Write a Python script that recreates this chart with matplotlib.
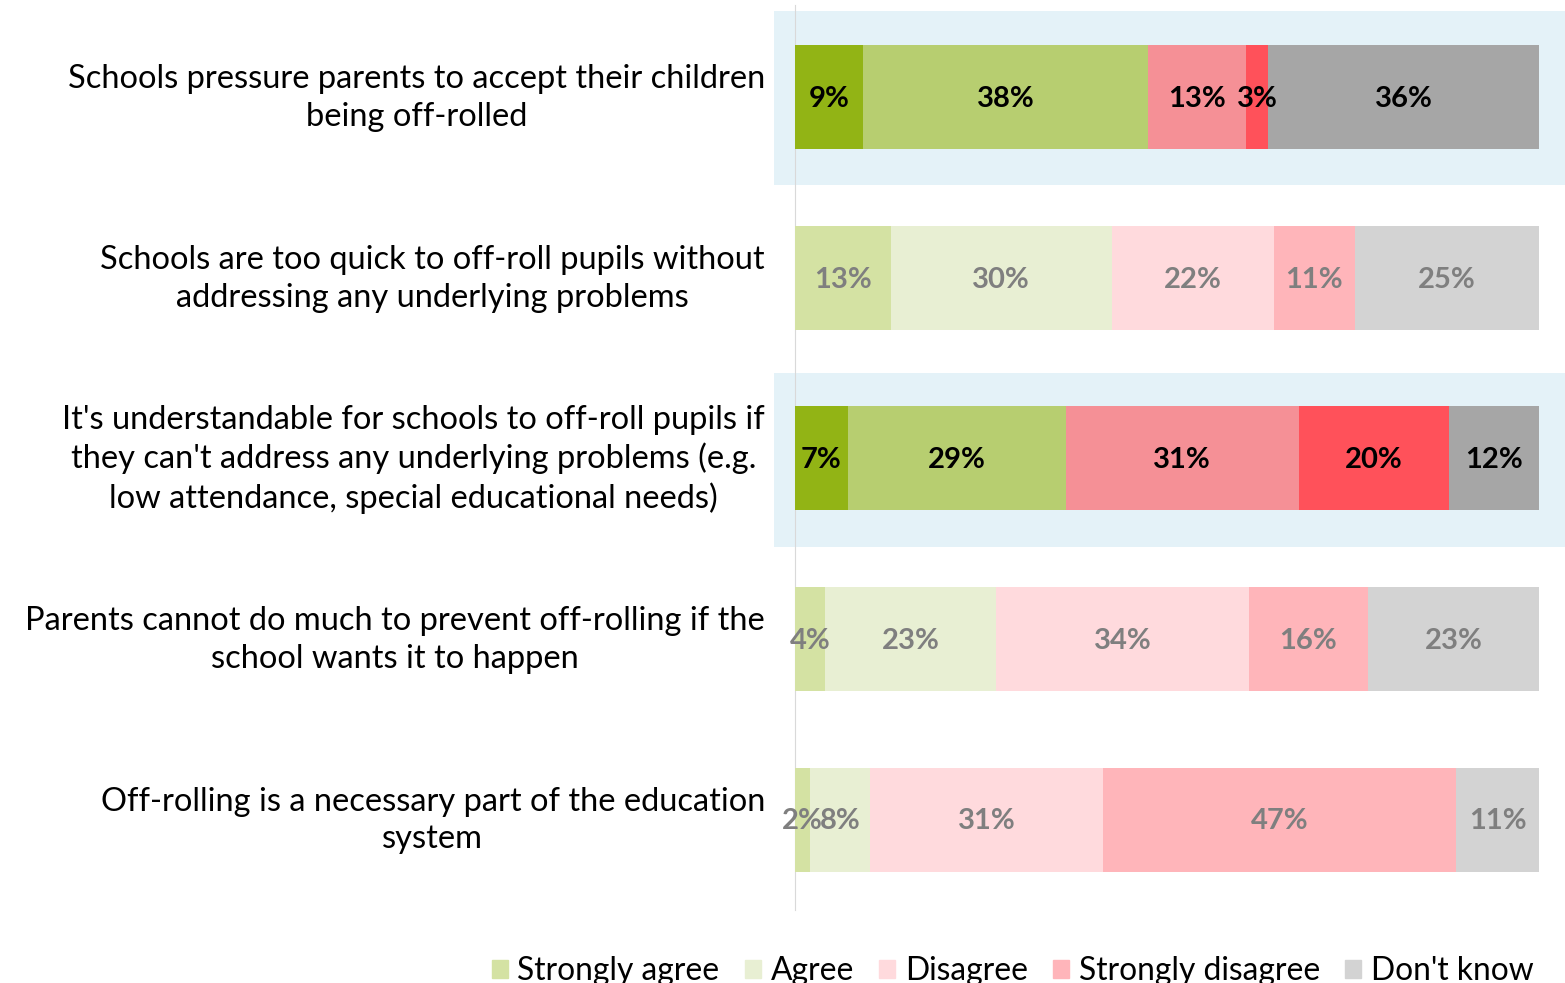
import matplotlib
matplotlib.use('Agg')
import matplotlib.pyplot as plt
from matplotlib.patches import Patch, Rectangle

plt.rcParams['font.family'] = ['Lato', 'DejaVu Sans']

statements = ["Schools pressure parents to accept their children\nbeing off-rolled",
              "Schools are too quick to off-roll pupils without\naddressing any underlying problems",
              "It's understandable for schools to off-roll pupils if\nthey can't address any underlying problems (e.g.\nlow attendance, special educational needs)",
              "Parents cannot do much to prevent off-rolling if the\nschool wants it to happen",
              "Off-rolling is a necessary part of the education\nsystem"]
categories = ['Strongly agree', 'Agree', 'Disagree', 'Strongly disagree', "Don't know"]
strongly_agree = [9, 13, 7, 4, 2]
agree = [38, 30, 29, 23, 8]
disagree = [13, 22, 31, 34, 31]
strongly_disagree = [3, 11, 20, 16, 47]
dont_know = [36, 25, 12, 23, 11]
highlighted = [True, False, True, False, False]

dark_cols = ['#92B415', '#B7CE70', '#F59096', '#FF515A', '#A6A6A6']
light_cols = ['#D4E2A3', '#E8EFD3', '#FFDADD', '#FFB5BA', '#D3D3D3']

series = [strongly_agree, agree, disagree, strongly_disagree, dont_know]

fig = plt.figure(figsize=(15.65, 9.83), dpi=100)
ax = fig.add_axes([795/1565, 1-910/983, 744/1565, 905/983])

for i in range(len(statements)):
    total = sum(s[i] for s in series)
    left = 0
    if highlighted[i]:
        ax.add_patch(Rectangle((-0.0282, i-0.475), 1.063, 0.964, color='#E4F2F8',
                               zorder=0, clip_on=False, lw=0))
    cols = dark_cols if highlighted[i] else light_cols
    tcol = 'black' if highlighted[i] else '#7F7F7F'
    for j, s in enumerate(series):
        w = s[i]/total
        ax.barh(i, w, left=left, height=0.575, color=cols[j], zorder=2)
        ax.text(left+w/2, i+0.01, f'{s[i]}%', ha='center', va='center', fontsize=21,
                fontweight='bold', color=tcol, zorder=3)
        left += w
    # statement label to the left of the bar
    ax.text(-0.0403, i+0.005, statements[i], ha='right', va='center',
            multialignment='center', fontsize=23.5, linespacing=1.32, clip_on=False)

ax.set_xlim(0, 1)
ax.set_ylim(4.5, -0.51)
ax.set_yticks([])
ax.set_xticks([])
for sp in ['top', 'right', 'bottom']:
    ax.spines[sp].set_visible(False)
ax.spines['left'].set_color('#D9D9D9')
ax.spines['left'].set_zorder(1)
ax.patch.set_alpha(0)

handles = [Patch(color=c, label=l) for c, l in zip(light_cols, categories)]
fig.legend(handles=handles, ncol=5, loc='lower right', bbox_to_anchor=(0.988, -0.016),
           frameon=False, fontsize=22.9, handlelength=0.5, handleheight=0.5,
           handletextpad=0.3, columnspacing=0.8, borderaxespad=0)

fig.savefig('out.png', dpi=100)
